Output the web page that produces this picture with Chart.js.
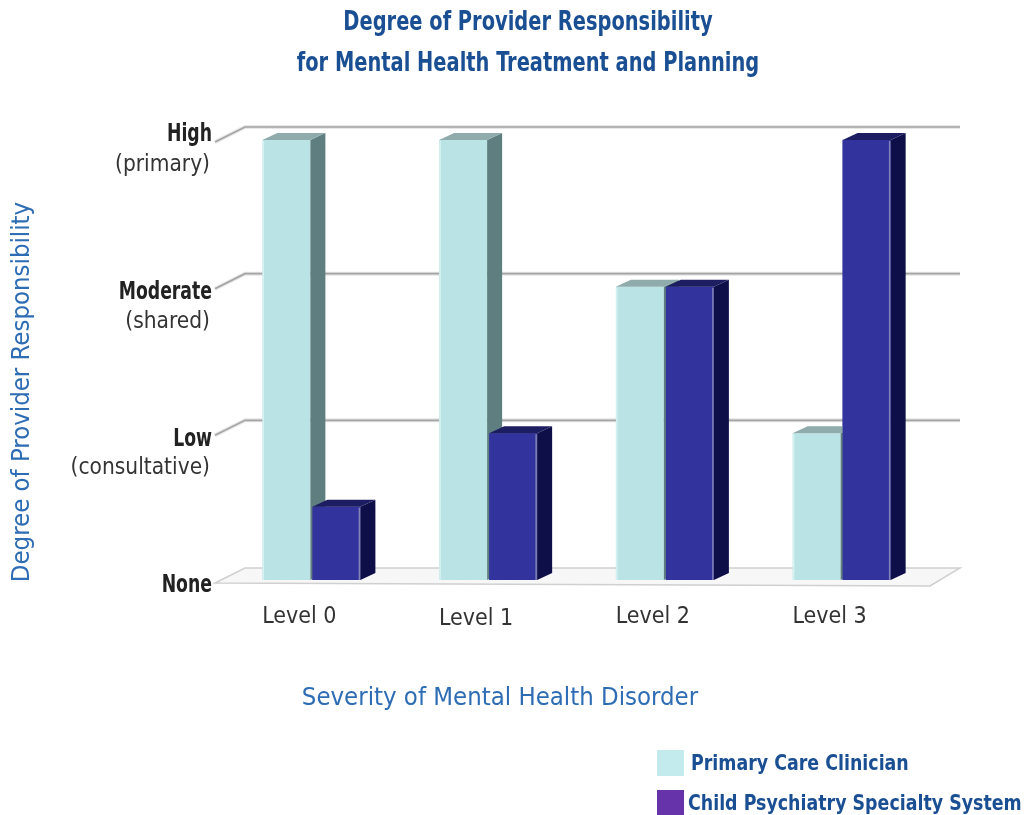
<!DOCTYPE html>
<html>
<head>
<meta charset="utf-8">
<script src="https://cdn.jsdelivr.net/npm/chart.js@4.4.1/dist/chart.umd.min.js"></script>
<style>
  html, body { margin: 0; padding: 0; background: #fff; }
  canvas { display: block; }
</style>
</head>
<body>
<canvas id="respChart" width="1024" height="815"></canvas>
<script>
// Grado de responsabilidad por nivel de severidad
const levels = ['Level 0', 'Level 1', 'Level 2', 'Level 3'];
const primaryCare = [3, 3, 2, 1];
const childPsych = [0.5, 1, 2, 3];
const tickValues = [0, 1, 2, 3];
const tickMain = ['None', 'Low', 'Moderate', 'High'];
const tickSub = ['', '(consultative)', '(shared)', '(primary)'];
const seriesNames = ['Primary Care Clinician', 'Child Psychiatry Specialty System'];

const FONT = '"DejaVu Sans Condensed", "Liberation Sans", sans-serif';
const BLUE = '#1b4f93';
const AXIS_BLUE = '#2e6db4';
const DX = 15, DY = 7;            // profundidad de las barras
const WALL_DX = 30, WALL_DY = 15; // profundidad del suelo / rejilla

const faces = [
  { front: '#b9e3e5', side: '#5e7e7f', top: '#8fabab', edge: '#d8f2f3', legend: '#c3eaec' },
  { front: '#32339c', side: '#0e0e48', top: '#1d1d62', edge: '#8383b8', legend: '#6633aa' }
];

// texto estrechado horizontalmente
function narrowText(ctx, txt, x, y, sx) {
  ctx.save();
  ctx.translate(x, y);
  ctx.scale(sx, 1);
  ctx.fillText(txt, 0, 0);
  ctx.restore();
}

function drawFaces(ctx, bar, f, leftEdge) {
  const { x, y, base, width } = bar.getProps(['x', 'y', 'base', 'width'], true);
  const l = x - width / 2, r = x + width / 2;
  ctx.beginPath();
  ctx.moveTo(r, y);
  ctx.lineTo(r + DX, y - DY);
  ctx.lineTo(r + DX, base - DY);
  ctx.lineTo(r, base);
  ctx.closePath();
  ctx.fillStyle = f.side;
  ctx.fill();
  ctx.beginPath();
  ctx.moveTo(l, y);
  ctx.lineTo(l + DX, y - DY);
  ctx.lineTo(r + DX, y - DY);
  ctx.lineTo(r, y);
  ctx.closePath();
  ctx.fillStyle = f.top;
  ctx.fill();
  ctx.strokeStyle = f.edge;
  ctx.lineWidth = 1.5;
  const ex = leftEdge ? l + 1 : r - 1;
  ctx.beginPath();
  ctx.moveTo(ex, y + 1);
  ctx.lineTo(ex, base);
  ctx.stroke();
}

const bar3d = {
  id: 'bar3d',
  beforeDatasetsDraw(chart) {
    const { ctx, chartArea, scales: { y } } = chart;
    const left = chartArea.left - 8;
    const right = chartArea.right + 30;
    const base = y.getPixelForValue(0);
    ctx.save();
    // suelo
    ctx.beginPath();
    ctx.moveTo(left, base + 3);
    ctx.lineTo(left + WALL_DX, base + 3 - WALL_DY);
    ctx.lineTo(right, base + 3 - WALL_DY);
    ctx.lineTo(right - WALL_DX, base + 6);
    ctx.closePath();
    ctx.fillStyle = '#f7f7f7';
    ctx.fill();
    ctx.strokeStyle = '#d0d0d0';
    ctx.lineWidth = 1.5;
    ctx.stroke();
    // rejilla
    tickValues.forEach(v => {
      if (v === 0) return;
      const yy = y.getPixelForValue(v) + 2;
      ctx.beginPath();
      ctx.moveTo(left, yy);
      ctx.lineTo(left + WALL_DX, yy - WALL_DY);
      ctx.lineTo(right, yy - WALL_DY);
      ctx.strokeStyle = '#e6e6e6';
      ctx.lineWidth = 4;
      ctx.stroke();
      ctx.strokeStyle = '#a4a4a4';
      ctx.lineWidth = 1.6;
      ctx.stroke();
    });
    ctx.restore();
  },
  afterDatasetsDraw(chart) {
    const { ctx } = chart;
    const pcc = chart.getDatasetMeta(0).data;
    const cps = chart.getDatasetMeta(1).data;
    ctx.save();
    levels.forEach((_, i) => {
      drawFaces(ctx, pcc[i], faces[0], true);
      cps[i].draw(ctx);            // frente de la segunda barra por delante
      drawFaces(ctx, cps[i], faces[1], false);
    });
    ctx.restore();
  },
  afterDraw(chart) {
    const { ctx, scales: { x, y } } = chart;
    ctx.save();
    ctx.textBaseline = 'middle';
    // titulo
    ctx.fillStyle = BLUE;
    ctx.textAlign = 'center';
    ctx.font = 'bold 27px ' + FONT;
    narrowText(ctx, 'Degree of Provider Responsibility', 528, 23, 0.8);
    narrowText(ctx, 'for Mental Health Treatment and Planning', 528, 64, 0.8);
    // etiquetas eje y
    ctx.textAlign = 'right';
    tickValues.forEach((v, i) => {
      const yy = y.getPixelForValue(v);
      ctx.fillStyle = '#222';
      ctx.font = 'bold 24px ' + FONT;
      narrowText(ctx, tickMain[i], 212, yy + (v === 3 ? -5 : 6), 0.8);
      if (tickSub[i]) {
        ctx.fillStyle = '#333';
        ctx.font = '22.5px ' + FONT;
        ctx.fillText(tickSub[i], 210, yy + (v === 3 ? 25 : 35));
      }
    });
    // etiquetas eje x
    ctx.textAlign = 'center';
    ctx.fillStyle = '#333';
    ctx.font = '23px ' + FONT;
    levels.forEach((lab, i) => {
      ctx.fillText(lab, x.getPixelForValue(i) - 12, 617 + (i === 1 ? 2 : 0));
    });
    // titulos de ejes
    ctx.fillStyle = AXIS_BLUE;
    ctx.font = '25.5px ' + FONT;
    ctx.fillText('Severity of Mental Health Disorder', 500, 698);
    ctx.translate(22, 392);
    ctx.rotate(-Math.PI / 2);
    ctx.fillText('Degree of Provider Responsibility', 0, 0);
    ctx.restore();
    // leyenda
    ctx.save();
    ctx.textAlign = 'left';
    ctx.textBaseline = 'middle';
    ctx.font = 'bold 22px ' + FONT;
    chart.data.datasets.forEach((ds, i) => {
      const top = 750 + i * 40;
      ctx.fillStyle = faces[i].legend;
      ctx.fillRect(657, top, 27, 26);
      ctx.fillStyle = BLUE;
      narrowText(ctx, ds.label, i === 0 ? 691 : 688, top + 14, 0.88);
    });
    ctx.restore();
  }
};

new Chart(document.getElementById('respChart'), {
  type: 'bar',
  data: {
    labels: levels,
    datasets: [
      { label: seriesNames[0], data: primaryCare, backgroundColor: faces[0].front },
      { label: seriesNames[1], data: childPsych, backgroundColor: faces[1].front }
    ]
  },
  options: {
    responsive: false,
    animation: false,
    layout: { padding: { left: 223, right: 94, top: 140, bottom: 235 } },
    datasets: { bar: { categoryPercentage: 0.566, barPercentage: 0.96, borderWidth: 0 } },
    plugins: {
      legend: { display: false },
      title: { display: false },
      tooltip: { enabled: false }
    },
    scales: {
      x: { display: false },
      y: { display: false, min: 0, max: 3 }
    }
  },
  plugins: [bar3d]
});
</script>
</body>
</html>
